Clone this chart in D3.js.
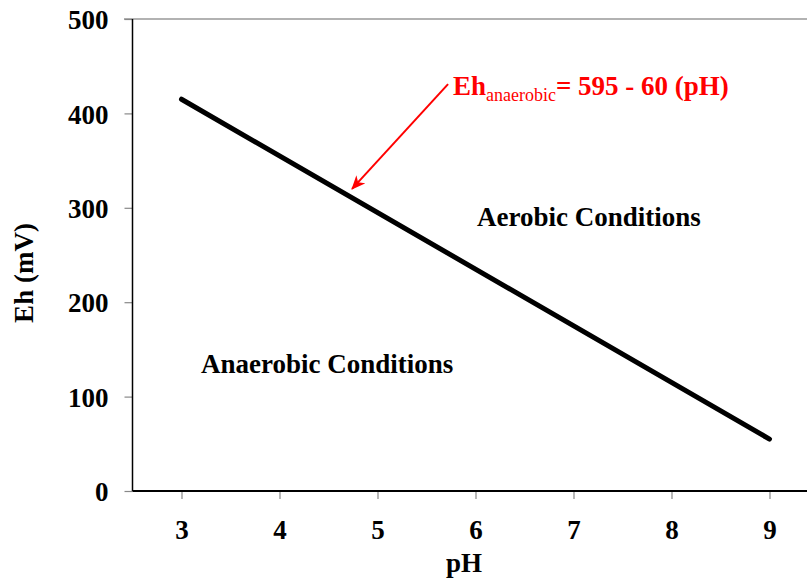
<!DOCTYPE html>
<html><head><meta charset="utf-8">
<script src="https://cdn.jsdelivr.net/npm/d3@7"></script>
<style>body{margin:0;background:#fff}svg{display:block}text{font-family:"Liberation Serif","Times New Roman",serif;font-weight:bold}</style>
</head><body><svg id="c" width="807" height="580"></svg>
<script>
const pHValues = [3, 9];
const ehValues = [415, 55];
const xTicks = [3, 4, 5, 6, 7, 8, 9];
const yTicks = [0, 100, 200, 300, 400, 500];
const arrowFromTo = [[5.72, 431], [4.74, 320]];

const svg = d3.select("#c");
const x = d3.scaleLinear().domain([2.5, 9.5]).range([132.5, 818.5]);
const y = d3.scaleLinear().domain([0, 500]).range([491, 19]);
const font = "27px";

// top border
svg.append("line").attr("x1", 124).attr("x2", 807).attr("y1", y(500)).attr("y2", y(500))
  .attr("stroke", "#999").attr("stroke-width", 1.5);

// y axis
const ya = svg.append("g").attr("transform", `translate(${x(2.5)},0)`)
  .call(d3.axisLeft(y).tickValues(yTicks).tickSize(8).tickPadding(16).tickFormat(d3.format("d")));
ya.select(".domain").remove();
ya.selectAll(".tick line").attr("stroke", "#888").attr("stroke-width", 1.2);
ya.selectAll(".tick text").attr("font-size", font).attr("fill", "#000").attr("dy", "0.36em")
  .style("font-family", '"Liberation Serif",serif').style("font-weight", "bold");
svg.append("line").attr("x1", x(2.5)).attr("x2", x(2.5)).attr("y1", y(500)).attr("y2", y(0))
  .attr("stroke", "#000").attr("stroke-width", 1.5);

// x axis
const xa = svg.append("g").attr("transform", `translate(0,${y(0)})`)
  .call(d3.axisBottom(x).tickValues(xTicks).tickSize(8).tickPadding(21).tickFormat(d3.format("d")));
xa.select(".domain").remove();
xa.selectAll(".tick line").attr("stroke", "#888").attr("stroke-width", 1.2);
xa.selectAll(".tick text").attr("font-size", font).attr("fill", "#000")
  .style("font-family", '"Liberation Serif",serif').style("font-weight", "bold");
svg.append("line").attr("x1", x(2.5)).attr("x2", 807).attr("y1", y(0)).attr("y2", y(0))
  .attr("stroke", "#000").attr("stroke-width", 2);

// data line
const data = pHValues.map((p, i) => ({p, e: ehValues[i]}));
svg.append("path").datum(data)
  .attr("d", d3.line().x(d => x(d.p)).y(d => y(d.e)))
  .attr("fill", "none").attr("stroke", "#000").attr("stroke-width", 5).attr("stroke-linecap", "round");

// arrow
const defs = svg.append("defs");
defs.append("marker").attr("id", "ah").attr("viewBox", "0 0 14 12").attr("refX", 13).attr("refY", 6)
  .attr("markerWidth", 14).attr("markerHeight", 12).attr("markerUnits", "userSpaceOnUse").attr("orient", "auto")
  .append("path").attr("d", "M0,0 L14,6 L0,12 L4,6 Z").attr("fill", "#ff0000");
svg.append("line")
  .attr("x1", x(arrowFromTo[0][0])).attr("y1", y(arrowFromTo[0][1]))
  .attr("x2", x(arrowFromTo[1][0])).attr("y2", y(arrowFromTo[1][1]))
  .attr("stroke", "#ff0000").attr("stroke-width", 2).attr("marker-end", "url(#ah)");

// equation
const eq = svg.append("text").attr("x", 453).attr("y", 95).attr("fill", "#ff0000").attr("font-size", font);
eq.append("tspan").text("Eh");
eq.append("tspan").attr("font-size", "18px").style("font-weight", "normal").attr("dy", 6).text("anaerobic");
eq.append("tspan").attr("dy", -6).text("= 595 - 60 (pH)");

// region labels
svg.append("text").attr("x", 477).attr("y", 226).attr("font-size", font).text("Aerobic Conditions");
svg.append("text").attr("x", 201).attr("y", 373).attr("font-size", font).text("Anaerobic Conditions");

// axis titles
svg.append("text").attr("x", 464).attr("y", 572).attr("text-anchor", "middle").attr("font-size", font).text("pH");
svg.append("text").attr("transform", "translate(33,273) rotate(-90)").attr("text-anchor", "middle")
  .attr("font-size", font).text("Eh (mV)");
</script></body></html>
